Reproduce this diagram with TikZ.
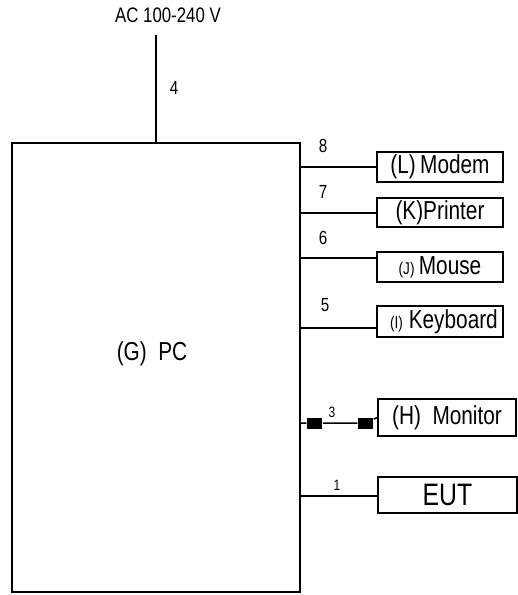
\documentclass[tikz,border=0pt]{standalone}
\usepackage{fontspec}
\setmainfont{Liberation Sans}[FakeStretch=0.8]
\usetikzlibrary{positioning}

\begin{document}
\begin{tikzpicture}[
			x=1pt, y=-1pt,
			line width=1.5pt,
			pcbox/.style={rectangle, draw, minimum width=288pt, minimum height=449pt, inner sep=0pt},
			devbox/.style={rectangle, draw, minimum width=126pt, minimum height=30pt, inner sep=0pt, font=\fontsize{26}{28}\selectfont},
			bigbox/.style={devbox, minimum width=138pt, minimum height=37pt},
			num/.style={inner sep=0pt, font=\fontsize{19}{20}\selectfont},
			smallnum/.style={inner sep=0pt, font=\fontsize{15}{16}\selectfont},
			plug/.style={rectangle, fill, minimum width=15pt, minimum height=11pt, inner sep=0pt}
			]
			\useasboundingbox (0,0) rectangle (518,595);
			\node[pcbox] (pc) at (156,367.5) {};
			\node[font=\fontsize{26}{28}\selectfont] (pclabel) at (152,354) {(G)\ \ PC};
			\node[inner sep=0pt, font=\fontsize{21}{22}\selectfont] (ac) at (168,15) {AC 100-240 V};
			\coordinate (mains) at (156,35);
			\node[devbox] (modem) at (440,167) {(L)\,Modem};
			\node[devbox, minimum height=29pt] (printer) at (440,212.5) {(K)Printer};
			\node[devbox] (mouse) at (440,267) {{\fontsize{17}{17}\selectfont(J)}\,Mouse};
			\node[devbox, minimum height=31pt] (keyboard) at (440,321.5) {\hspace{8pt}{\fontsize{17}{17}\selectfont(I)}\ Keyboard};
			\node[bigbox] (monitor) at (447,417.5) {(H)\ \ Monitor};
			\node[bigbox, minimum width=139pt, minimum height=36pt, font=\fontsize{31}{32}\selectfont] (eut) at (447.5,495) {EUT};
			% ports on the PC side
			\coordinate (p8) at (pc.east |- 0,167);
			\coordinate (p7) at (pc.east |- 0,213);
			\coordinate (p6) at (pc.east |- 0,258);
			\coordinate (p5) at (pc.east |- 0,328);
			\coordinate (p3) at (pc.east |- 0,423);
			\coordinate (p1) at (pc.east |- 0,496);
			\node[plug] (plugA) at (314.5,423) {};
			\node[plug] (plugB) at (365.5,423) {};
			\draw (mains) -- (mains |- pc.north);
			\draw (p8) -- (p8 -| modem.west);
			\draw (p7) -- (p7 -| printer.west);
			\draw (p6) -- (p6 -| mouse.west);
			\draw (p5) -- (p5 -| keyboard.west);
			\draw (p3) -- (plugA) -- (plugB) -- (monitor.west);
			\draw (p1) -- (p1 -| eut.west);
			\node[num] (n4) at (174,88) {4};
			\node[num] (n8) at (323,146) {8};
			\node[num] (n7) at (323,192) {7};
			\node[num] (n6) at (323,238) {6};
			\node[num] (n5) at (325,305) {5};
			\node[smallnum] (n3) at (332,412) {3};
			\node[smallnum] (n1) at (337,485) {1};
		\end{tikzpicture}
\end{document}
